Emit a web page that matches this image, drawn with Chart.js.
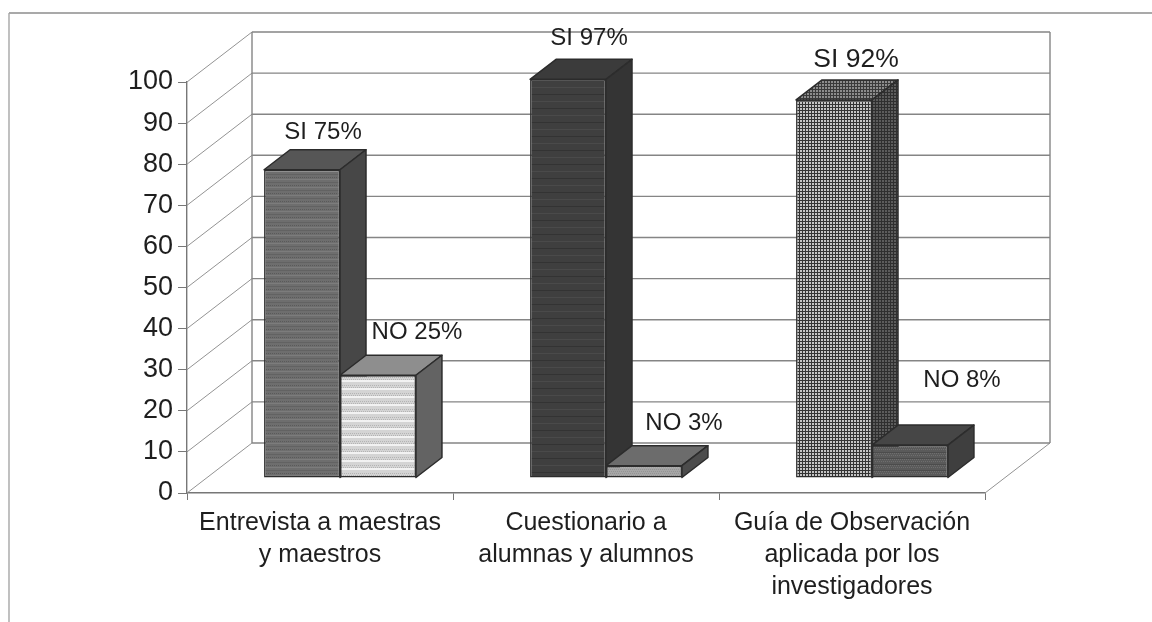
<!DOCTYPE html>
<html>
<head>
<meta charset="utf-8">
<style>
html,body{margin:0;padding:0;background:#fff;overflow:hidden}
#wrap{position:relative;width:1152px;height:622px}
canvas{display:block;filter:blur(.45px)}
</style>
<script src="https://cdn.jsdelivr.net/npm/chart.js@4"></script>
</head>
<body>
<div id="wrap"><canvas id="c" width="1152" height="622"></canvas></div>
<script>
const categories = [["Entrevista a maestras","y maestros"],["Cuestionario a","alumnas y alumnos"],["Guía de Observación","aplicada por los","investigadores"]];
const siValues = [75, 97, 92];
const noValues = [25, 3, 8];
const siLabels = ["SI 75%", "SI 97%", "SI 92%"];
const noLabels = ["NO 25%", "NO 3%", "NO 8%"];

// Appearance only
const FONT = '"Liberation Sans", Arial, sans-serif';
const WALL = {dx: 65, dy: -50};
const FLOOR = {dx: 20, dy: -15};
const DEPTH = {dx: 26, dy: -20};
const siLabelStyle = [{ox:21, oy:-37, size:24},{ox:21, oy:-41, size:24},{ox:22, oy:-40, size:26.5}];
const noLabelStyle = [{ox:39, oy:-43, size:24},{ox:40, oy:-42, size:24},{ox:52, oy:-65, size:24}];

function tile(w, h, base, draw){
  const t = document.createElement('canvas'); t.width = w; t.height = h;
  const g = t.getContext('2d'); g.fillStyle = base; g.fillRect(0,0,w,h);
  draw(g);
  return document.getElementById('c').getContext('2d').createPattern(t,'repeat');
}
const dots = (col, n) => g => { g.fillStyle = col; for(let y=0;y<n;y+=2) for(let x=(y%4?1:0);x<n;x+=2) g.fillRect(x,y,1,1); };
const siFront = [
  tile(4,8,'#6e6e6e',g=>{dots('#5a5a5a',4)(g);g.fillStyle='#626262';g.fillRect(0,5,4,1);g.fillStyle='#7c7c7c';g.fillRect(0,2,4,1);}),
  tile(4,14,'#3f3f3f',g=>{g.fillStyle='#333';g.fillRect(0,11,4,1);g.fillStyle='#4a4a4a';g.fillRect(0,4,4,1);}),
  tile(3,3,'#c4c4c4',g=>{g.fillStyle='#333';g.fillRect(0,2,3,1);g.fillRect(2,0,1,3);})
];
const noFront = [
  tile(4,8,'#d4d4d4',g=>{dots('#b4b4b4',4)(g);g.fillStyle='#f2f2f2';g.fillRect(0,3,4,2);}),
  tile(4,4,'#a6a6a6',g=>{dots('#949494',4)(g);}),
  tile(4,6,'#5a5a5a',g=>{dots('#6e6e6e',4)(g);g.fillStyle='#4c4c4c';g.fillRect(0,5,4,1);})
];
const siTop = ['#565656','#3b3b3b', tile(3,3,'#8c8c8c',g=>{g.fillStyle='#3a3a3a';g.fillRect(0,2,3,1);g.fillRect(2,0,1,3);})];
const siSide = ['#474747','#343434', tile(3,3,'#5c5c5c',g=>{g.fillStyle='#2f2f2f';g.fillRect(0,2,3,1);g.fillRect(2,0,1,3);})];
const noTop = ['#8e8e8e','#6c6c6c','#464646'];
const noSide = ['#636363','#4c4c4c','#3f3f3f'];
const sideColors = [[siTop,siSide],[noTop,noSide]];

const scene = {
  id:'scene',
  beforeDatasetsDraw(chart){
    const {ctx, scales:{x,y}} = chart;
    const left = x.left, right = x.right, bottom = y.getPixelForValue(0), top = y.getPixelForValue(100);
    ctx.save();
    // side wall and floor lines
    ctx.strokeStyle = '#939393'; ctx.lineWidth = 1;
    y.ticks.forEach(t=>{
      const py = y.getPixelForValue(t.value);
      ctx.beginPath(); ctx.moveTo(left,py); ctx.lineTo(left+WALL.dx,py+WALL.dy); ctx.stroke();
    });
    ctx.beginPath(); ctx.moveTo(right,bottom); ctx.lineTo(right+WALL.dx,bottom+WALL.dy); ctx.stroke();
    // back wall
    ctx.strokeStyle = '#858585'; ctx.lineWidth = 1.4;
    y.ticks.forEach(t=>{
      const py = y.getPixelForValue(t.value)+WALL.dy;
      ctx.beginPath(); ctx.moveTo(left+WALL.dx,py); ctx.lineTo(right+WALL.dx,py); ctx.stroke();
    });
    ctx.beginPath();
    ctx.moveTo(left+WALL.dx,bottom+WALL.dy); ctx.lineTo(left+WALL.dx,top+WALL.dy);
    ctx.moveTo(right+WALL.dx,bottom+WALL.dy); ctx.lineTo(right+WALL.dx,top+WALL.dy);
    ctx.stroke();
    // 3D faces of the bars
    ctx.strokeStyle = '#2c2c2c'; ctx.lineWidth = 1.5; ctx.lineJoin='round';
    [0,1].forEach(d=>{
      chart.getDatasetMeta(d).data.forEach((el,i)=>{
        const x0 = el.x-el.width/2+FLOOR.dx, x1 = el.x+el.width/2+FLOOR.dx;
        const yt = el.y+FLOOR.dy, yb = el.base+FLOOR.dy;
        ctx.fillStyle = sideColors[d][0][i];
        ctx.beginPath(); ctx.moveTo(x0,yt); ctx.lineTo(x0+DEPTH.dx,yt+DEPTH.dy); ctx.lineTo(x1+DEPTH.dx,yt+DEPTH.dy); ctx.lineTo(x1,yt); ctx.closePath(); ctx.fill(); ctx.stroke();
        ctx.fillStyle = sideColors[d][1][i];
        ctx.beginPath(); ctx.moveTo(x1,yt); ctx.lineTo(x1+DEPTH.dx,yt+DEPTH.dy); ctx.lineTo(x1+DEPTH.dx,yb+DEPTH.dy); ctx.lineTo(x1,yb); ctx.closePath(); ctx.fill(); ctx.stroke();
      });
    });
    ctx.restore();
    ctx.save();
    ctx.translate(FLOOR.dx,FLOOR.dy);
  },
  afterDatasetsDraw(chart){
    const ctx = chart.ctx;
    ctx.restore();
    ctx.save();
    ctx.fillStyle = '#1e1e1e'; ctx.textAlign='center'; ctx.textBaseline='middle';
    [[siLabels,siLabelStyle],[noLabels,noLabelStyle]].forEach(([texts,styles],d)=>{
      chart.getDatasetMeta(d).data.forEach((el,i)=>{
        const s = styles[i];
        ctx.font = s.size+'px '+FONT;
        ctx.fillText(texts[i], el.x+FLOOR.dx+s.ox, el.y+FLOOR.dy+DEPTH.dy+s.oy+20);
      });
    });
    ctx.restore();
  },
  afterDraw(chart){
    const ctx = chart.ctx;
    ctx.save();
    ctx.lineWidth=1.4;
    ctx.strokeStyle='#8c8c8c';
    ctx.beginPath(); ctx.moveTo(9,13); ctx.lineTo(1152,13); ctx.stroke();
    ctx.strokeStyle='#a6a6a6';
    ctx.beginPath(); ctx.moveTo(9,622); ctx.lineTo(9,13); ctx.stroke();
    ctx.restore();
  }
};

new Chart(document.getElementById('c'),{
  type:'bar',
  data:{labels:categories,datasets:[
    {label:'SI',data:siValues,backgroundColor:siFront,borderColor:'#2c2c2c',borderWidth:1.5,borderSkipped:false,categoryPercentage:0.571,barPercentage:1,clip:false},
    {label:'NO',data:noValues,backgroundColor:noFront,borderColor:'#2c2c2c',borderWidth:1.5,borderSkipped:false,categoryPercentage:0.571,barPercentage:1,clip:false}
  ]},
  options:{
    responsive:false,animation:false,
    layout:{padding:{left:0,right:167,top:82,bottom:0}},
    plugins:{legend:{display:false},tooltip:{enabled:false},title:{display:false}},
    scales:{
      x:{
        afterFit(s){s.height=129;},
        grid:{drawOnChartArea:false,color:'#777',tickLength:7,lineWidth:1},
        border:{color:'#777',width:1.4},
        ticks:{color:'#1e1e1e',font:{family:FONT,size:25,lineHeight:1.28},padding:7,maxRotation:0,autoSkip:false}
      },
      y:{
        min:0,max:100,
        afterFit(s){s.width=187;},
        grid:{drawOnChartArea:false,color:'#777',tickLength:9,lineWidth:1},
        border:{color:'#777',width:1.4},
        ticks:{stepSize:10,color:'#1e1e1e',font:{family:FONT,size:27},padding:5}
      }
    }
  },
  plugins:[scene]
});
</script>
</body>
</html>
